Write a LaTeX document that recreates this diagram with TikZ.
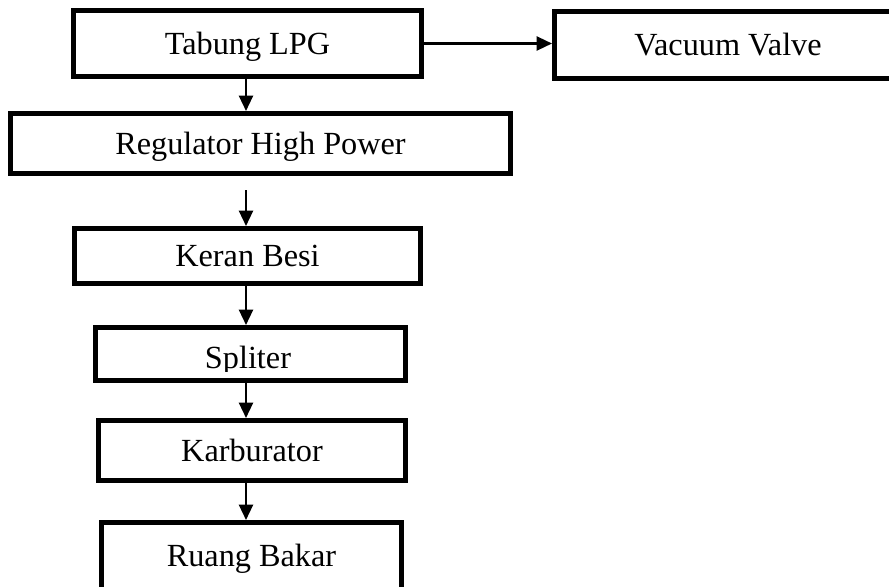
\documentclass[tikz,border=0pt]{standalone}
\usepackage{fontspec}
\setmainfont{Liberation Serif}
\usetikzlibrary{positioning,arrows.meta}

\begin{document}
\begin{tikzpicture}[
  x=0.75pt, y=-0.75pt,
  every node/.style={font=\fontsize{24.2}{29}\selectfont},
  bb/.style={rectangle, draw=black, line width=3.75pt, inner sep=0pt, align=center,
             text height=21.5pt, text depth=5.5pt},
  arrowstyle/.style={-{Triangle[length=11.5pt, width=10.5pt]}, line width=1.7pt, color=black}
]
  \useasboundingbox (0,0) rectangle (889,586);

  \node[bb, minimum width=261pt, minimum height=49.5pt] (tab) at (247.5,43.5) {Tabung LPG};
  \node[bb, minimum width=260.25pt, minimum height=50.25pt] (vac) at (728,45) {Vacuum Valve};
  \node[bb, minimum width=375pt, minimum height=45pt] (reg) at (260.5,143.5) {Regulator High Power};
  \node[bb, minimum width=259.5pt, minimum height=41.25pt] (keran) at (247.5,256) {Keran Besi};
  \node[bb, minimum width=232.5pt, minimum height=39.75pt] (spl) at (250.5,354) {};
  \begin{scope}
    \clip (93,325) rectangle (408,371);
    \node[anchor=base] (spltxt) at (248,368) {Spliter};
  \end{scope}
  \node[bb, minimum width=230.25pt, minimum height=45pt] (karb) at (252,450.5) {Karburator};
  \node[bb, minimum width=225pt, minimum height=50.25pt] (rb) at (251.5,556) {Ruang Bakar};

  \coordinate (axis) at (246,0);
  \coordinate (a2) at (246,190);

  \draw[arrowstyle] (tab.east) -- (tab.east -| vac.west);
  \draw[arrowstyle] (tab.south -| axis) -- (reg.north -| axis);
  \draw[arrowstyle] (a2) -- (keran.north -| axis);
  \draw[arrowstyle] (keran.south -| axis) -- (spl.north -| axis);
  \draw[arrowstyle] (spl.south -| axis) -- (karb.north -| axis);
  \draw[arrowstyle] (karb.south -| axis) -- (rb.north -| axis);
\end{tikzpicture}
\end{document}
